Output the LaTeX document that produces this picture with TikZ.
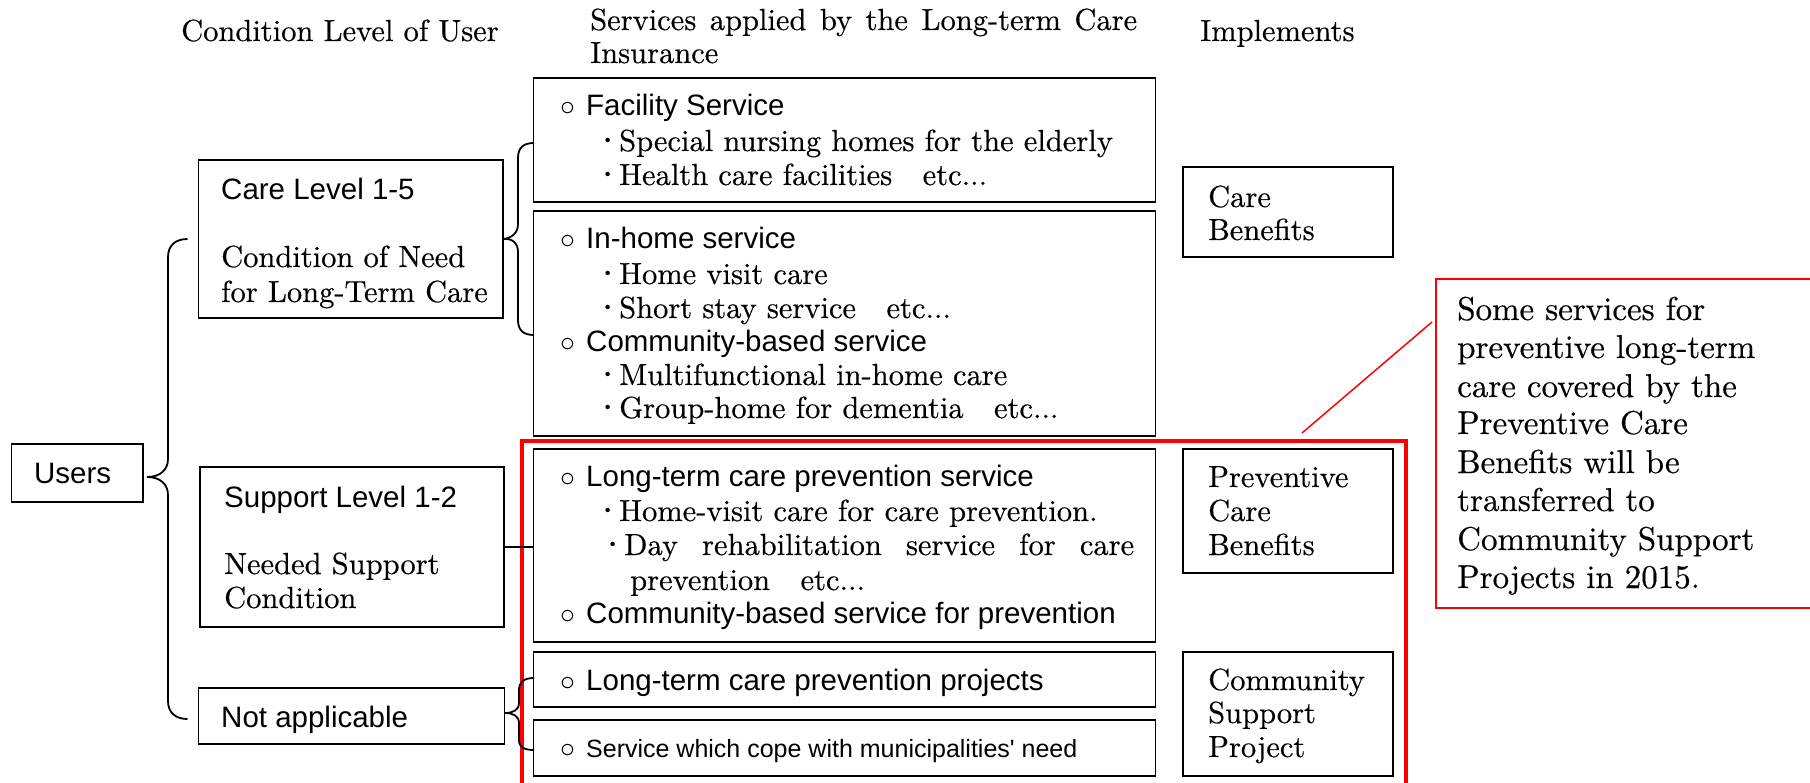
\documentclass[tikz,border=0pt]{standalone}
\usepackage{graphicx}
\usepackage{fontspec}
\setmainfont{lmroman10-regular}[Extension=.otf, FakeBold=0.4]
\setsansfont{Liberation Sans}
\usetikzlibrary{calc}
\newcommand\cb{\makebox[26pt][l]{\scalebox{1.2}{$\circ$}}}
\newcommand\dotmark{\raisebox{-2.5pt}{\scalebox{1.3}{\textperiodcentered}}}
\newcommand\bu{\makebox[27pt][l]{\dotmark}}
\begin{document}
\begin{tikzpicture}[x=1pt,y=-1pt,
  box/.style={draw, line width=1.8pt, anchor=north west, inner sep=0pt, outer sep=0pt},
  ser/.style={anchor=base west, inner sep=0pt, font=\fontsize{30.5}{35}\selectfont},
  sns/.style={anchor=base west, inner sep=0pt, font=\sffamily\fontsize{29.5}{34}\selectfont},
  nt/.style={anchor=base west, inner sep=0pt, font=\fontsize{33}{38}\selectfont},
  link/.style={line width=1.8pt},
  redline/.style={draw=red, line width=1.5pt}
]
\clip (0,0) rectangle (1810,783);
\fill[white] (0,0) rectangle (1810,783);

% headers
\node[ser] (h1) at (181,41) {Condition Level of User};
\node[ser] (h2) at (590,30) {\makebox[547pt][s]{Services applied by the Long-term Care}};
\node[ser] (h3) at (590,63) {Insurance};
\node[ser] (h4) at (1200,41) {Implements};

% red frame and note
\node[box, draw=red, line width=4pt, minimum width=884.5pt, minimum height=360pt] (redbox) at (521.5,441) {};
\node[box, draw=red, line width=2pt, minimum width=380pt, minimum height=329pt] (note) at (1436,279) {};
\coordinate (cl) at (1302,433);
\draw[redline] ($(note.north west)+(-4,43)$) -- (cl);

% left boxes
\node[box, minimum width=131.5pt, minimum height=58pt] (users) at (11.5,444) {};
\node[box, minimum width=304.5pt, minimum height=158pt] (care) at (198.5,160) {};
\node[box, minimum width=304pt, minimum height=160pt] (support) at (200,467) {};
\node[box, minimum width=306pt, minimum height=56pt] (notapp) at (198.5,688) {};

% service boxes
\node[box, minimum width=622pt, minimum height=124pt] (fac) at (533.5,78) {};
\node[box, minimum width=622pt, minimum height=225pt] (inhome) at (533.5,211) {};
\node[box, minimum width=622pt, minimum height=193pt] (prev) at (533.5,449) {};
\node[box, minimum width=622pt, minimum height=55pt] (proj) at (533.5,652) {};
\node[box, minimum width=622pt, minimum height=56pt] (muni) at (533.5,720) {};

% implement boxes
\node[box, minimum width=210pt, minimum height=90pt] (carebn) at (1183,167) {};
\node[box, minimum width=210pt, minimum height=124pt] (prevbn) at (1183,449) {};
\node[box, minimum width=210pt, minimum height=124pt] (commbn) at (1183,652) {};

% braces and connectors
\coordinate (ua) at (187.5,239);
\coordinate (ub) at (187.5,719);
\draw[link] (ua) .. controls (176,239) and (168,245) .. (168,257) -- (168,459)
  .. controls (168,470) and (160,477) .. (147,477)
  .. controls (160,477) and (168,484) .. (168,495) -- (168,701)
  .. controls (168,713) and (176,719) .. (ub);
\coordinate (ca) at (534,143);
\coordinate (cbt) at (534,335);
\draw[link] (ca) .. controls (523,143) and (518,148) .. (518,158) -- (518,224)
  .. controls (518,233) and (512,238) .. (care.east)
  .. controls (512,238) and (518,243) .. (518,252) -- (518,320)
  .. controls (518,330) and (523,335) .. (cbt);
\coordinate (na) at (534,678);
\coordinate (nb) at (534,750);
\draw[link] (na) .. controls (524,678) and (519,682) .. (519,690) -- (519,703)
  .. controls (519,710) and (513,713) .. (505,713)
  .. controls (513,713) and (519,716) .. (519,723) -- (519,740)
  .. controls (519,747) and (524,750) .. (nb);
\draw[link] (support.east) -- (prev.west |- support.east);

% left texts
\node[sns] (tu) at (34,483.5) {Users};
\node[sns] (tc1) at (221,200) {Care Level 1-5};
\node[ser] (tc2) at (221,267) {Condition of Need};
\node[ser] (tc3) at (221,302) {for Long-Term Care};
\node[sns] (ts1) at (224,507) {Support Level 1-2};
\node[ser] (ts2) at (224,574) {Needed Support};
\node[ser] (ts3) at (224,608) {Condition};
\node[sns] (tn) at (221,727) {Not applicable};

% facility
\node[sns] (f1) at (560,116) {\cb Facility Service};
\node[ser] (f2) at (592,151) {\bu Special nursing homes for the elderly};
\node[ser] (f3) at (592,185) {\bu Health care facilities\quad etc...};
% in-home
\node[sns] (i1) at (560,249) {\cb In-home service};
\node[ser] (i2) at (592,284) {\bu Home visit care};
\node[ser] (i3) at (592,318) {\bu Short stay service\quad etc...};
\node[sns] (i4) at (560,352) {\cb Community-based service};
\node[ser] (i5) at (592,385) {\bu Multifunctional in-home care};
\node[ser] (i6) at (592,418) {\bu Group-home for dementia\quad etc...};
% prevention
\node[sns] (p1) at (560,486) {\cb Long-term care prevention service};
\node[ser] (p2) at (592,521) {\bu Home-visit care for care prevention.};
\node[ser] (p3) at (597,555) {\makebox[27pt][l]{\dotmark}\makebox[510pt][s]{Day rehabilitation service for care}};
\node[ser] (p4) at (630,590) {prevention\quad etc...};
\node[sns] (p5) at (560,623) {\cb Community-based service for prevention};
\node[sns] (q1) at (560,690) {\cb Long-term care prevention projects};
\node[sns] (m1) at (560,757) {\cb{\fontsize{25}{30}\selectfont Service which cope with municipalities\textquotesingle{} need}};

% implements
\node[ser] (b1) at (1208,207) {Care};
\node[ser] (b2) at (1208,240) {Benefits};
\node[ser] (b3) at (1208,487) {Preventive};
\node[ser] (b4) at (1208,521) {Care};
\node[ser] (b5) at (1208,555) {Benefits};
\node[ser] (b6) at (1208,690) {Community};
\node[ser] (b7) at (1208,723) {Support};
\node[ser] (b8) at (1208,757) {Project};

% note text
\node[nt] (n1) at (1457,320) {Some services for};
\node[nt] (n2) at (1457,358) {preventive long-term};
\node[nt] (n3) at (1457,397) {care covered by the};
\node[nt] (n4) at (1457,434) {Preventive Care};
\node[nt] (n5) at (1457,473) {Benefits will be};
\node[nt] (n6) at (1457,511) {transferred to};
\node[nt] (n7) at (1457,550) {Community Support};
\node[nt] (n8) at (1457,588) {Projects in 2015.};
\end{tikzpicture}
\end{document}
